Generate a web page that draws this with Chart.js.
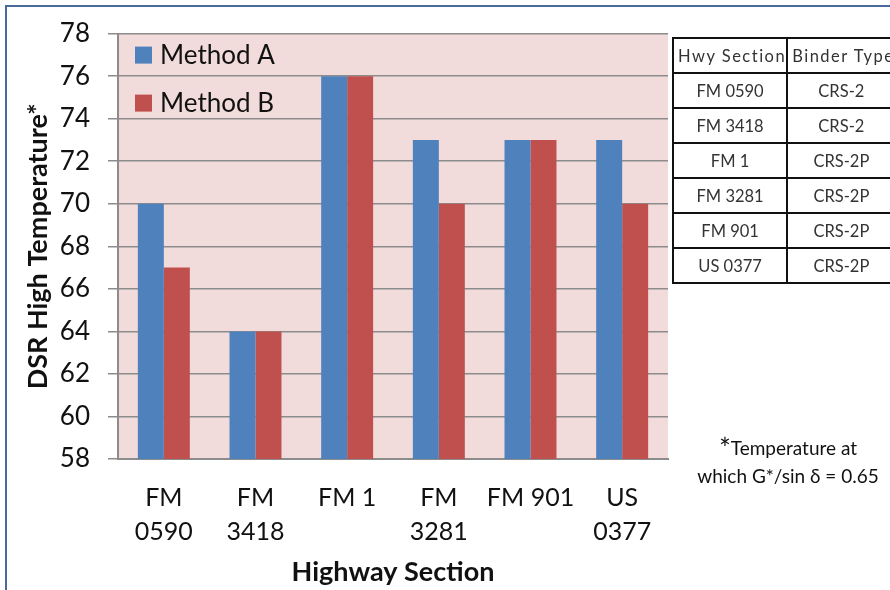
<!DOCTYPE html>
<html>
<head>
<meta charset="utf-8">
<script src="https://cdn.jsdelivr.net/npm/chart.js@4"></script>
<style>
  html, body { margin: 0; padding: 0; background: #fff; overflow: hidden; }
  #wrap { position: relative; width: 890px; height: 590px; }
  #frame { position: absolute; left: 5px; top: 5px; width: 900px; height: 600px;
           border-left: 2px solid #4a6a9c; border-top: 2px solid #4a6a9c; box-sizing: border-box; }
  #binders { position: absolute; left: 672px; top: 37px; border-collapse: collapse;
             font-family: Lato, sans-serif; font-size: 16.5px; color: #333; }
  #binders td { border: 2px solid #111; height: 33px; padding: 0; text-align: center; white-space: nowrap; }
  #binders td.c1 { width: 111px; }
  #binders td.c2 { width: 120px; }
  #binders tr.head td { letter-spacing: 1.5px; text-align: left; padding-left: 4px; }
  #note { position: absolute; left: 690px; top: 434px; width: 196px; text-align: center;
          font-family: Lato, sans-serif; font-size: 19px; line-height: 28px; color: #111; }
  #note .star { font-size: 28px; line-height: 0; vertical-align: -4px; }
</style>
</head>
<body>
<div id="wrap">
  <canvas id="dsrChart" width="890" height="590"></canvas>
  <div id="frame"></div>
  <table id="binders"></table>
  <div id="note"><span class="star">*</span>Temperature at<br>which G*/sin δ = 0.65</div>
</div>
<script>
const sections = [['FM', '0590'], ['FM', '3418'], 'FM 1', ['FM', '3281'], 'FM 901', ['US', '0377']];
const methodA = [70, 64, 76, 73, 73, 73];
const methodB = [67, 64, 76, 70, 73, 70];
const hwyNames = ['FM 0590', 'FM 3418', 'FM 1', 'FM 3281', 'FM 901', 'US 0377'];
const binderTypes = ['CRS-2', 'CRS-2', 'CRS-2P', 'CRS-2P', 'CRS-2P', 'CRS-2P'];

// binder type table next to the plot
const table = document.getElementById('binders');
let rows = '<tr class="head"><td class="c1">Hwy Section</td><td class="c2">Binder Type</td></tr>';
hwyNames.forEach(function(name, i) {
    rows += '<tr><td class="c1">' + name + '</td><td class="c2">' + binderTypes[i] + '</td></tr>';
});
table.innerHTML = rows;

const plotBackground = {
    id: 'plotBackground',
    beforeDraw(chart) {
        const a = chart.chartArea;
        const c = chart.ctx;
        c.save();
        c.fillStyle = '#f2dcdb';
        c.fillRect(a.left, a.top, a.right - a.left, a.bottom - a.top);
        c.restore();
    }
};

// legend sits inside the plot, top-left
const insideLegend = {
    id: 'insideLegend',
    afterDraw(chart) {
        const a = chart.chartArea;
        const c = chart.ctx;
        c.save();
        c.font = '26px Lato';
        c.textBaseline = 'middle';
        chart.data.datasets.forEach(function(ds, i) {
            const y = a.top + 21 + i * 48;
            c.fillStyle = ds.backgroundColor;
            c.fillRect(a.left + 17, y - 8, 17, 17);
            c.fillStyle = '#111';
            c.fillText(ds.label, a.left + 42, y + 1);
        });
        c.restore();
    }
};

new Chart(document.getElementById('dsrChart'), {
    type: 'bar',
    data: {
        labels: sections,
        datasets: [
            { label: 'Method A', data: methodA, backgroundColor: '#4f81bd' },
            { label: 'Method B', data: methodB, backgroundColor: '#c0504d' }
        ]
    },
    options: {
        responsive: false,
        animation: false,
        layout: { padding: { left: 18, top: 27, right: 222, bottom: 0 } },
        datasets: { bar: { categoryPercentage: 0.567, barPercentage: 1.0 } },
        plugins: { legend: { display: false }, tooltip: { enabled: false } },
        scales: {
            y: {
                min: 58,
                max: 78,
                afterFit(scale) { scale.width = 100; },
                ticks: { stepSize: 2, color: '#111', padding: 18, font: { family: 'Lato', size: 26 } },
                grid: { color: '#8c8c8c', lineWidth: 1.5, tickLength: 10 },
                border: { color: '#8c8c8c', width: 2 },
                title: {
                    display: true,
                    text: 'DSR High Temperature*',
                    color: '#111',
                    font: { family: 'Lato', size: 27, weight: 'bold' },
                    padding: { top: 4, bottom: 4 }
                }
            },
            x: {
                afterFit(scale) { scale.height = 131; },
                ticks: {
                    color: '#111',
                    padding: 14,
                    autoSkip: false,
                    maxRotation: 0,
                    minRotation: 0,
                    font: { family: 'Lato', size: 25, lineHeight: 1.36 }
                },
                grid: { display: false },
                border: { color: '#8c8c8c', width: 2 },
                title: {
                    display: true,
                    text: 'Highway Section',
                    color: '#111',
                    font: { family: 'Lato', size: 27, weight: 'bold' },
                    padding: { top: 4, bottom: 2 }
                }
            }
        }
    },
    plugins: [plotBackground, insideLegend]
});
</script>
</body>
</html>
